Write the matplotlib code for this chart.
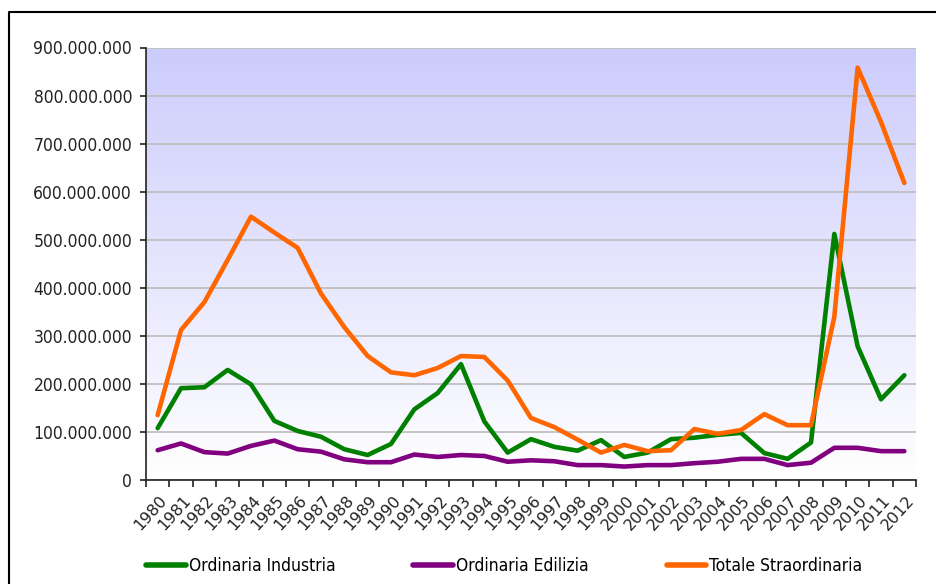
import numpy as np
import matplotlib
matplotlib.use("Agg")
import matplotlib.pyplot as plt
import matplotlib.transforms as mtransforms
from matplotlib.ticker import FuncFormatter
from matplotlib.lines import Line2D

# Data (values in euro)
years = [str(y) for y in range(1980, 2013)]
ordinaria_industria = [108e6, 191e6, 193e6, 229e6, 199e6, 123e6, 102e6, 90e6, 64e6, 52e6,
                       75e6, 147e6, 181e6, 241e6, 122e6, 57e6, 85e6, 69e6, 61e6, 83e6,
                       48e6, 57e6, 85e6, 88e6, 94e6, 98e6, 56e6, 44e6, 78e6, 512e6,
                       278e6, 168e6, 218e6]
ordinaria_edilizia = [62e6, 76e6, 58e6, 55e6, 71e6, 82e6, 64e6, 59e6, 43e6, 37e6,
                      37e6, 53e6, 48e6, 52e6, 50e6, 38e6, 41e6, 39e6, 31e6, 31e6,
                      28e6, 31e6, 31e6, 35e6, 38e6, 44e6, 44e6, 31e6, 36e6, 67e6,
                      67e6, 60e6, 60e6]
totale_straordinaria = [135e6, 312e6, 370e6, 458e6, 548e6, 515e6, 483e6, 388e6, 318e6, 258e6,
                        224e6, 218e6, 233e6, 258e6, 256e6, 207e6, 129e6, 110e6, 84e6, 57e6,
                        73e6, 60e6, 62e6, 106e6, 96e6, 104e6, 137e6, 114e6, 114e6, 340e6,
                        858e6, 745e6, 618e6]

series = [
    ("Ordinaria Industria", ordinaria_industria, "#008000"),
    ("Ordinaria Edilizia", ordinaria_edilizia, "#800080"),
    ("Totale Straordinaria", totale_straordinaria, "#ff6600"),
]

W, H = 937, 584
fig = plt.figure(figsize=(W / 100, H / 100), dpi=100)
ax = fig.add_axes([146 / W, 1 - 480 / H, (916 - 146) / W, (480 - 47.5) / H])

# gradient background: lavender at top fading to white
top = np.array([204, 204, 252]) / 255.0
t = np.linspace(0, 1, 256)[:, None]
grad = (1 - t) * top + t * np.array([1.0, 1.0, 1.0])
ax.imshow(grad[:, None, :].repeat(2, axis=1), extent=[0, 1, 0, 1],
          transform=ax.transAxes, aspect="auto", zorder=0)

x = np.arange(len(years))
for name, vals, color in series:
    ax.plot(x, vals, color=color, lw=3.3, label=name, zorder=3,
            solid_capstyle="round", solid_joinstyle="round")

ax.set_xlim(-0.5, len(years) - 0.5)
ax.set_ylim(0, 900e6)
ax.set_yticks(np.arange(0, 900e6 + 1, 100e6))
ax.yaxis.set_major_formatter(FuncFormatter(lambda v, p: f"{v:,.0f}".replace(",", ".")))
ax.grid(axis="y", color="#c0c0c0", lw=1.3, zorder=1)
ax.set_axisbelow(True)

# category axis: ticks between categories, labels at centres
ax.set_xticks(np.arange(-0.5, len(years), 1))
ax.set_xticklabels([])
ax.set_xticks(x, minor=True)
ax.set_xticklabels(years, minor=True, rotation=48, ha="right", va="center",
                   rotation_mode="anchor", fontsize=11.5)
ax.tick_params(axis="x", which="minor", length=0, pad=13)
ax.tick_params(axis="x", which="major", length=5, width=1.2, color="#222222")
ax.tick_params(axis="y", length=4, width=1.2, color="#222222", labelsize=12.5, pad=6)
for lab in ax.get_yticklabels():
    lab.set_fontstretch("condensed")
    lab.set_color("#222222")
shift = mtransforms.ScaledTranslation(7 / 100, 0, fig.dpi_scale_trans)
for lab in ax.get_xticklabels(minor=True):
    lab.set_color("#222222")
    lab.set_transform(lab.get_transform() + shift)

for s in ["top", "right"]:
    ax.spines[s].set_visible(False)
for s in ["left", "bottom"]:
    ax.spines[s].set_color("#222222")
    ax.spines[s].set_linewidth(1.2)

leg = fig.legend(loc="center left", bbox_to_anchor=(146 / W, 1 - 566 / H), ncol=3,
                 frameon=False, borderpad=0, borderaxespad=0, handlelength=2.3,
                 handletextpad=0.15, columnspacing=4.5,
                 prop={"family": "DejaVu Sans", "stretch": "condensed", "size": 12.5})
for h in leg.get_lines():
    h.set_linewidth(4)
    h.set_solid_capstyle("round")

# outer frame (top and left edges)
fig.add_artist(Line2D([9.5 / W, 9.5 / W, 1], [0, 1 - 12 / H, 1 - 12 / H],
                      transform=fig.transFigure, color="black", lw=1.5))

fig.savefig("out.png", dpi=100)
